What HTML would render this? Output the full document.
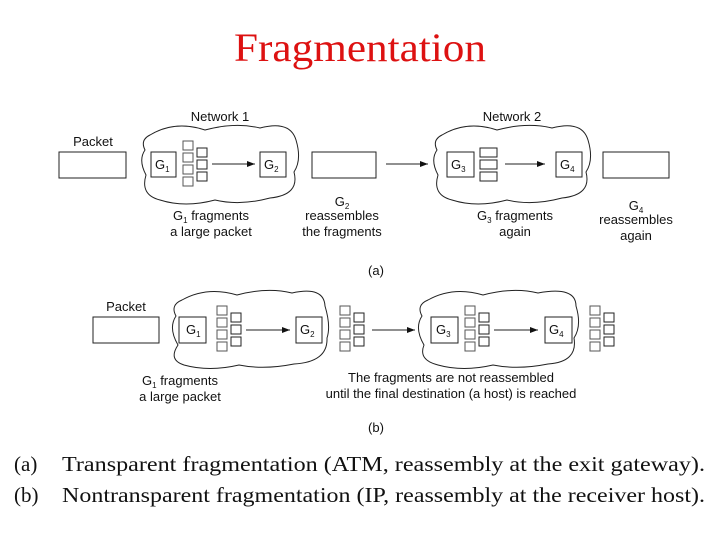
<!DOCTYPE html>
<html><head><meta charset="utf-8"><style>
html,body{margin:0;padding:0;background:#fff;width:720px;height:540px;overflow:hidden}
svg text{font-family:"Liberation Sans",Arial,sans-serif}
svg .s, svg .s text{font-family:"Liberation Serif","Times New Roman",serif}
</style></head><body>
<svg width="720" height="540" viewBox="0 0 720 540" xmlns="http://www.w3.org/2000/svg">
<defs><marker id="ar" markerWidth="8" markerHeight="6" refX="8" refY="3" orient="auto"><path d="M0,0 L8,3 L0,6 z" fill="#111"/></marker></defs>
<text class="s" x="360" y="61" text-anchor="middle" font-size="40" fill="#dd1111" textLength="252" lengthAdjust="spacingAndGlyphs">Fragmentation</text>

<g fill="none" stroke="#222" stroke-width="1">
<!-- (a) -->
<rect x="59" y="152" width="67" height="26"/>
<path d="M150,135 Q175,120 205,130 Q235,122 260,128 Q290,120 296,140 Q302,160 294,172 Q300,195 270,198 Q240,206 215,200 Q185,208 160,200 Q140,195 146,175 Q138,160 145,150 Q140,140 150,135 Z"/>
<rect x="151" y="152" width="25" height="25"/>
<rect x="260" y="152" width="26" height="25"/>
<g stroke="#555"><rect x="183" y="141" width="10" height="9"/><rect x="183" y="153" width="10" height="9"/><rect x="183" y="165" width="10" height="9"/><rect x="183" y="177" width="10" height="9"/></g>
<rect x="197" y="148" width="10" height="9"/><rect x="197" y="160" width="10" height="9"/><rect x="197" y="172" width="10" height="9"/>
<line x1="212" y1="164" x2="255" y2="164" marker-end="url(#ar)"/>
<rect x="312" y="152" width="64" height="26"/>
<line x1="386" y1="164" x2="428" y2="164" marker-end="url(#ar)"/>
<path d="M442,135 Q467,120 497,130 Q527,122 552,128 Q582,120 588,140 Q594,160 586,172 Q592,195 562,198 Q532,206 507,200 Q477,208 452,200 Q432,195 438,175 Q430,160 437,150 Q432,140 442,135 Z"/>
<rect x="447" y="152" width="27" height="25"/>
<rect x="480" y="148" width="17" height="9"/><rect x="480" y="160" width="17" height="9"/><rect x="480" y="172" width="17" height="9"/>
<line x1="505" y1="164" x2="545" y2="164" marker-end="url(#ar)"/>
<rect x="556" y="152" width="26" height="25"/>
<rect x="603" y="152" width="66" height="26"/>
<!-- (b) -->
<rect x="93" y="317" width="66" height="26"/>
<path d="M182,300 Q207,286 237,295 Q267,287 292,293 Q324,286 325,306 Q331,326 327,338 Q328,362 294,364 Q264,370 239,365 Q209,372 184,365 Q168,360 178,345 Q168,328 176,316 Q170,305 182,300 Z"/>
<rect x="179" y="317" width="27" height="26"/>
<rect x="296" y="317" width="26" height="26"/>
<path d="M428,300 Q453,286 483,295 Q513,287 538,293 Q576,286 576,306 Q582,326 574,338 Q578,362 548,364 Q518,370 493,365 Q463,372 438,365 Q418,360 424,345 Q414,328 422,316 Q416,305 428,300 Z"/>
<rect x="431" y="317" width="27" height="26"/>
<rect x="545" y="317" width="27" height="26"/>
<line x1="246" y1="330" x2="290" y2="330" marker-end="url(#ar)"/>
<line x1="372" y1="330" x2="415" y2="330" marker-end="url(#ar)"/>
<line x1="494" y1="330" x2="538" y2="330" marker-end="url(#ar)"/>
<g stroke="#555">
<rect x="217" y="306" width="10" height="9"/><rect x="217" y="318" width="10" height="9"/><rect x="217" y="330" width="10" height="9"/><rect x="217" y="342" width="10" height="9"/>
<rect x="340" y="306" width="10" height="9"/><rect x="340" y="318" width="10" height="9"/><rect x="340" y="330" width="10" height="9"/><rect x="340" y="342" width="10" height="9"/>
<rect x="465" y="306" width="10" height="9"/><rect x="465" y="318" width="10" height="9"/><rect x="465" y="330" width="10" height="9"/><rect x="465" y="342" width="10" height="9"/>
<rect x="590" y="306" width="10" height="9"/><rect x="590" y="318" width="10" height="9"/><rect x="590" y="330" width="10" height="9"/><rect x="590" y="342" width="10" height="9"/>
</g>
<rect x="231" y="313" width="10" height="9"/><rect x="231" y="325" width="10" height="9"/><rect x="231" y="337" width="10" height="9"/>
<rect x="354" y="313" width="10" height="9"/><rect x="354" y="325" width="10" height="9"/><rect x="354" y="337" width="10" height="9"/>
<rect x="479" y="313" width="10" height="9"/><rect x="479" y="325" width="10" height="9"/><rect x="479" y="337" width="10" height="9"/>
<rect x="604" y="313" width="10" height="9"/><rect x="604" y="325" width="10" height="9"/><rect x="604" y="337" width="10" height="9"/>
</g>

<g font-size="13" fill="#111">
<text x="93" y="146" text-anchor="middle">Packet</text>
<text x="220" y="121" text-anchor="middle">Network 1</text>
<text x="512" y="121" text-anchor="middle">Network 2</text>
<text x="155" y="169">G<tspan font-size="8" dy="3">1</tspan></text>
<text x="264" y="169">G<tspan font-size="8" dy="3">2</tspan></text>
<text x="451" y="169">G<tspan font-size="8" dy="3">3</tspan></text>
<text x="560" y="169">G<tspan font-size="8" dy="3">4</tspan></text>
<text x="211" y="220" text-anchor="middle">G<tspan font-size="8" dy="3">1</tspan><tspan dy="-3"> fragments</tspan></text>
<text x="211" y="236" text-anchor="middle">a large packet</text>
<text x="342" y="206" text-anchor="middle">G<tspan font-size="8" dy="3">2</tspan></text>
<text x="342" y="220" text-anchor="middle">reassembles</text>
<text x="342" y="236" text-anchor="middle">the fragments</text>
<text x="515" y="220" text-anchor="middle">G<tspan font-size="8" dy="3">3</tspan><tspan dy="-3"> fragments</tspan></text>
<text x="515" y="236" text-anchor="middle">again</text>
<text x="636" y="210" text-anchor="middle">G<tspan font-size="8" dy="3">4</tspan></text>
<text x="636" y="224" text-anchor="middle">reassembles</text>
<text x="636" y="240" text-anchor="middle">again</text>
<text x="376" y="275" text-anchor="middle">(a)</text>
<text x="126" y="311" text-anchor="middle">Packet</text>
<text x="186" y="334">G<tspan font-size="8" dy="3">1</tspan></text>
<text x="300" y="334">G<tspan font-size="8" dy="3">2</tspan></text>
<text x="436" y="334">G<tspan font-size="8" dy="3">3</tspan></text>
<text x="549" y="334">G<tspan font-size="8" dy="3">4</tspan></text>
<text x="180" y="385" text-anchor="middle">G<tspan font-size="8" dy="3">1</tspan><tspan dy="-3"> fragments</tspan></text>
<text x="180" y="401" text-anchor="middle">a large packet</text>
<text x="451" y="382" text-anchor="middle">The fragments are not reassembled</text>
<text x="451" y="398" text-anchor="middle">until the final destination (a host) is reached</text>
<text x="376" y="432" text-anchor="middle">(b)</text>
</g>

<g class="s" font-size="21" fill="#111">
<text x="14" y="471">(a)</text>
<text x="62" y="471" textLength="643" lengthAdjust="spacingAndGlyphs">Transparent fragmentation (ATM, reassembly at the exit gateway).</text>
<text x="14" y="502">(b)</text>
<text x="62" y="502" textLength="643" lengthAdjust="spacingAndGlyphs">Nontransparent fragmentation (IP, reassembly at the receiver host).</text>
</g>
</svg>
</body></html>
